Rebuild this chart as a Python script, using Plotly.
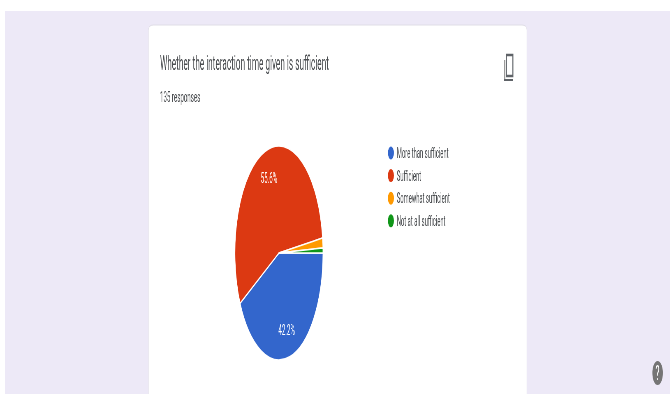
import math
import plotly.graph_objects as go

categories = ["More than sufficient", "Sufficient", "Somewhat sufficient", "Not at all sufficient"]
responses = [57, 75, 2, 1]
colors = ["#3366CC", "#DC3912", "#FF9900", "#109618"]
title_text = "Whether the interaction time given is sufficient"
subtitle_text = "135 responses"

W, H = 670, 394
SQUEEZE = 88 / 214          # the reference is a horizontally squeezed screenshot
VW = round(W / SQUEEZE)
GREY = "#4a4d50"
FONT = "Roboto"

def px(x): return x / W
def py(y): return 1 - y / H

def rect(x0, y0, x1, y1, color, **kw):
    return dict(type="rect", xref="paper", yref="paper", x0=px(x0), x1=px(x1), y0=py(y0), y1=py(y1),
                fillcolor=color, line=dict(width=0), layer="below", **kw)

def rounded_top(x0, y0, x1, y1, r, color):
    rx, ry = px(r), r / H
    X0, X1, Y0, Y1 = px(x0), px(x1), py(y0), py(y1)
    path = (f"M {X0} {Y1} L {X0} {Y0 - ry} Q {X0} {Y0} {X0 + rx} {Y0} L {X1 - rx} {Y0} "
            f"Q {X1} {Y0} {X1} {Y0 - ry} L {X1} {Y1} Z")
    return dict(type="path", xref="paper", yref="paper", path=path, fillcolor=color,
                line=dict(color="#dfdde6", width=1), layer="below")

def note(x, y, text, size, color=GREY, anchor="left"):
    return dict(x=px(x), y=py(y), xref="paper", yref="paper", text=text, showarrow=False,
                xanchor=anchor, yanchor="middle", font=dict(family=FONT, size=size, color=color))

fig = go.Figure()
cx, cy, rx, ry = 279, 253, 44, 107
fig.add_trace(go.Pie(
    labels=categories, values=responses, sort=False, direction="clockwise", rotation=90,
    marker=dict(colors=colors, line=dict(color="white", width=1.5)),
    textinfo="none", hoverinfo="label+percent", showlegend=False,
    domain=dict(x=[px(cx - rx), px(cx + rx)], y=[py(cy + ry), py(cy - ry)]),
))

shapes = [
    rect(0, 0, W, H, "#ffffff"),
    rect(5, 11, W, H, "#EDE9F7"),
    rounded_top(148.5, 25, 527, H + 2, 5, "#ffffff"),
    # device icon
    dict(type="rect", xref="paper", yref="paper", x0=px(506.5), x1=px(513), y0=py(76), y1=py(55),
         line=dict(color="#5f6368", width=2.4), fillcolor="rgba(0,0,0,0)"),
    dict(type="rect", xref="paper", yref="paper", x0=px(504), x1=px(505.5), y0=py(79), y1=py(60),
         line=dict(width=0), fillcolor="#9a9a9a"),
    dict(type="rect", xref="paper", yref="paper", x0=px(504), x1=px(513), y0=py(81), y1=py(79),
         line=dict(width=0), fillcolor="#5f6368"),
    # help icon
    dict(type="circle", xref="paper", yref="paper", x0=px(652.5), x1=px(663), y0=py(385), y1=py(361),
         line=dict(width=0), fillcolor="#757575"),
]
annotations = [
    note(159, 63, title_text, 20),
    note(159, 96.5, subtitle_text, 15),
    note(657.8, 373, "?", 21, "#ffffff", "center"),
]

# legend
for i, (cat, col) in enumerate(zip(categories, colors)):
    y = 153 + i * 22.6
    shapes.append(dict(type="circle", xref="paper", yref="paper", x0=px(388), x1=px(394),
                       y0=py(y + 6.5), y1=py(y - 6.5), line=dict(width=0), fillcolor=col))
    annotations.append(note(396, y, cat, 14.2))

# slice labels, placed from the shares at 0.74 of the radius
total = sum(responses)
start = 0.0
for value in responses:
    share = value / total
    if share > 0.05:
        mid = 2 * math.pi * (start + share / 2)
        annotations.append(note(cx + 0.74 * rx * math.cos(mid), cy + 0.74 * ry * math.sin(mid),
                                f"{share:.1%}", 15, "#ffffff", "center"))
    start += share

fig.update_layout(
    width=VW, height=H, margin=dict(l=0, r=0, t=0, b=0),
    paper_bgcolor="#ffffff", plot_bgcolor="#ffffff", showlegend=False,
    shapes=shapes, annotations=annotations, font=dict(family=FONT),
)

squeeze_js = f"""
document.documentElement.style.overflow = 'hidden';
document.body.style.margin = '0';
document.body.style.overflow = 'hidden';
var gd = document.getElementsByClassName('plotly-graph-div')[0];
gd.style.transformOrigin = '0 0';
gd.style.transform = 'scaleX({SQUEEZE})';
gd.style.willChange = 'transform';
"""
fig.write_html("out.html", post_script=squeeze_js, config=dict(displayModeBar=False))
